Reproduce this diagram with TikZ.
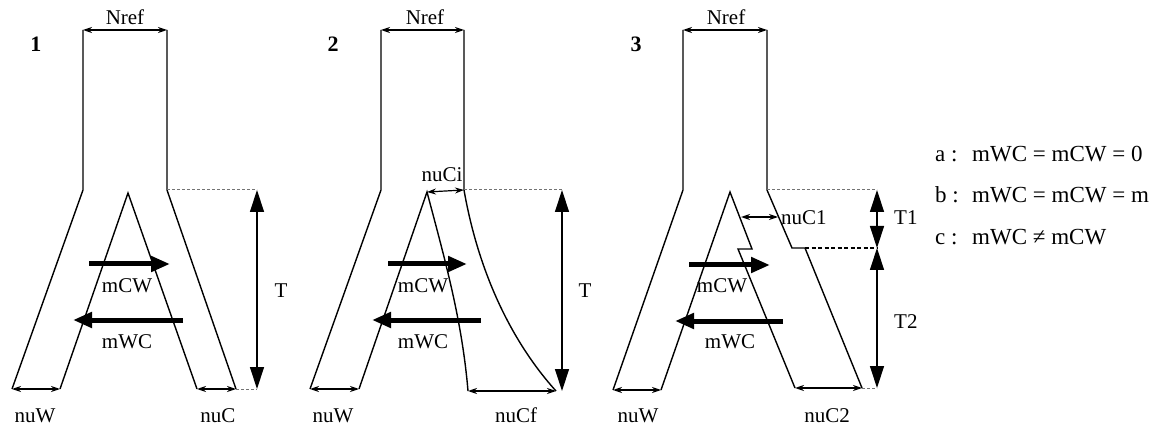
\documentclass[tikz,border=0pt]{standalone}
\usepackage{fontspec}
\setmainfont{Liberation Serif}
\usetikzlibrary{arrows.meta}
\begin{document}
\begin{tikzpicture}[x=1pt,y=-1pt,
  wall/.style={line width=1.4pt, line join=miter},
  dim/.style={line width=1.2pt, {Stealth[length=9pt,width=6pt]}-{Stealth[length=9pt,width=6pt]}},
  span/.style={line width=1.3pt, {Triangle[length=22pt,width=14pt]}-{Triangle[length=22pt,width=14pt]}},
  flow/.style={line width=5pt, -{Triangle[length=19pt,width=15pt]}},
  guide/.style={line width=1pt, black!55, dash pattern=on 3pt off 2pt},
  guidedark/.style={line width=1.1pt, dash pattern=on 4pt off 2.5pt},
  lbl/.style={font=\fontsize{21}{21}\selectfont, inner sep=0pt, anchor=base},
  num/.style={font=\fontsize{22}{22}\selectfont\bfseries, inner sep=0pt, anchor=base},
  leg/.style={font=\fontsize{23}{23}\selectfont, inner sep=0pt, anchor=base west}]
\useasboundingbox (0,0) rectangle (1164,430);

% ---------------- model 1 : constant sizes ----------------
\coordinate (p1tl) at (83,30);   \coordinate (p1tr) at (167,30);
\coordinate (p1sl) at (83,190);  \coordinate (p1sr) at (167,190);
\coordinate (p1wo) at (12,389);  \coordinate (p1wi) at (60,389);
\coordinate (p1ap) at (128,193);
\coordinate (p1ci) at (197,389); \coordinate (p1co) at (236,389);
\coordinate (p1tt) at (257,190); \coordinate (p1tb) at (257,389);
\draw[wall] (p1wo) -- (p1sl) -- (p1tl);
\draw[wall] (p1tr) -- (p1sr) -- (p1co);
\draw[wall] (p1wi) -- (p1ap) -- (p1ci);
\draw[dim] (p1tl) -- (p1tr);
\draw[dim] (p1wo) -- (p1wi);
\draw[dim] (p1ci) -- (p1co);
\draw[guide] (p1sr) -- (p1tt);
\draw[guide] (p1co) -- (p1tb);
\draw[span] (p1tt) -- (p1tb);
\coordinate (p1a1) at (89,264);  \coordinate (p1a2) at (170,264);
\coordinate (p1b1) at (183,320); \coordinate (p1b2) at (73,320);
\draw[flow] (p1a1) -- (p1a2);
\draw[flow] (p1b1) -- (p1b2);
\node[num] (n1) at (36,52) {1};
\node[lbl] (n1ref) at (125,25) {Nref};
\node[lbl] (n1cw) at (127,293) {mCW};
\node[lbl] (n1wc) at (127,348) {mWC};
\node[lbl] (n1t) at (281,298) {T};
\node[lbl] (n1nw) at (35,422) {nuW};
\node[lbl] (n1nc) at (218,422) {nuC};

% ---------------- model 2 : growing population ----------------
\coordinate (p2tl) at (381,30);  \coordinate (p2tr) at (464,30);
\coordinate (p2sl) at (381,190); \coordinate (p2sr) at (464,190);
\coordinate (p2wo) at (310,389); \coordinate (p2wi) at (359,389);
\coordinate (p2ap) at (427,192);
\coordinate (p2ci) at (468,391); \coordinate (p2co) at (556,391);
\coordinate (p2tt) at (562,190); \coordinate (p2tb) at (562,391);
\draw[wall] (p2wo) -- (p2sl) -- (p2tl);
\draw[wall] (p2tr) -- (p2sr) .. controls (478,270) and (510,340) .. (p2co);
\draw[wall] (p2wi) -- (p2ap) .. controls (445,260) and (462,320) .. (p2ci);
\draw[dim] (p2tl) -- (p2tr);
\draw[dim] (p2wo) -- (p2wi);
\draw[dim] (p2ap) -- (p2sr);
\draw[dim] (p2ci) -- (p2co);
\draw[guide] (p2sr) -- (p2tt);
\draw[span] (p2tt) -- (p2tb);
\coordinate (p2a1) at (388,264); \coordinate (p2a2) at (467,264);
\coordinate (p2b1) at (481,320); \coordinate (p2b2) at (372,320);
\draw[flow] (p2a1) -- (p2a2);
\draw[flow] (p2b1) -- (p2b2);
\node[num] (n2) at (333,52) {2};
\node[lbl] (n2ref) at (425,25) {Nref};
\node[lbl] (n2ci) at (442,182) {nuCi};
\node[lbl] (n2cw) at (423,293) {mCW};
\node[lbl] (n2wc) at (423,348) {mWC};
\node[lbl] (n2t) at (585,298) {T};
\node[lbl] (n2nw) at (333,422) {nuW};
\node[lbl] (n2nc) at (516,422) {nuCf};

% ---------------- model 3 : two-step size change ----------------
\coordinate (p3tl) at (683,30);  \coordinate (p3tr) at (767,30);
\coordinate (p3sl) at (683,190); \coordinate (p3sr) at (767,190);
\coordinate (p3wo) at (613,390); \coordinate (p3wi) at (661,390);
\coordinate (p3ap) at (730,192);
\coordinate (p3ka) at (752,249); \coordinate (p3kb) at (738,249);
\coordinate (p3ja) at (792,248); \coordinate (p3jb) at (805,248);
\coordinate (p3ci) at (795,388); \coordinate (p3co) at (862,388);
\coordinate (p3tt) at (877,190); \coordinate (p3tm) at (877,248);
\coordinate (p3tb) at (877,388);
\coordinate (p3ma) at (741,217); \coordinate (p3mb) at (778,217);
\draw[wall] (p3wo) -- (p3sl) -- (p3tl);
\draw[wall] (p3tr) -- (p3sr) -- (p3ja) -- (p3jb) -- (p3co);
\draw[wall] (p3wi) -- (p3ap) -- (p3ka) -- (p3kb) -- (p3ci);
\draw[dim] (p3tl) -- (p3tr);
\draw[dim] (p3wo) -- (p3wi);
\draw[dim] (p3ma) -- (p3mb);
\draw[dim] (p3ci) -- (p3co);
\draw[guide] (p3sr) -- (p3tt);
\draw[guidedark] (p3jb) -- (p3tm);
\draw[guide] (p3co) -- (p3tb);
\draw[span] (p3tt) -- (p3tm);
\draw[span] (p3tm) -- (p3tb);
\coordinate (p3a1) at (689,265); \coordinate (p3a2) at (770,265);
\coordinate (p3b1) at (783,321); \coordinate (p3b2) at (675,321);
\draw[flow] (p3a1) -- (p3a2);
\draw[flow] (p3b1) -- (p3b2);
\node[num] (n3) at (636,52) {3};
\node[lbl] (n3ref) at (726,25) {Nref};
\node[lbl, anchor=base west] (n3c1) at (781,225) {nuC1};
\node[lbl, anchor=base west] (n3t1) at (894,225) {T1};
\node[lbl, anchor=base west] (n3t2) at (894,328) {T2};
\node[lbl] (n3cw) at (722,293) {mCW};
\node[lbl] (n3wc) at (730,348) {mWC};
\node[lbl] (n3nw) at (638,422) {nuW};
\node[lbl] (n3nc) at (827,422) {nuC2};

% ---------------- legend ----------------
\node[leg] (la) at (935,162) {a :};
\node[leg] (lae) at (972,162) {mWC = mCW = 0};
\node[leg] (lb) at (935,203) {b :};
\node[leg] (lbe) at (972,203) {mWC = mCW = m};
\node[leg] (lc) at (935,245) {c :};
\node[leg] (lce) at (972,245) {mWC ≠ mCW};
\end{tikzpicture}
\end{document}
